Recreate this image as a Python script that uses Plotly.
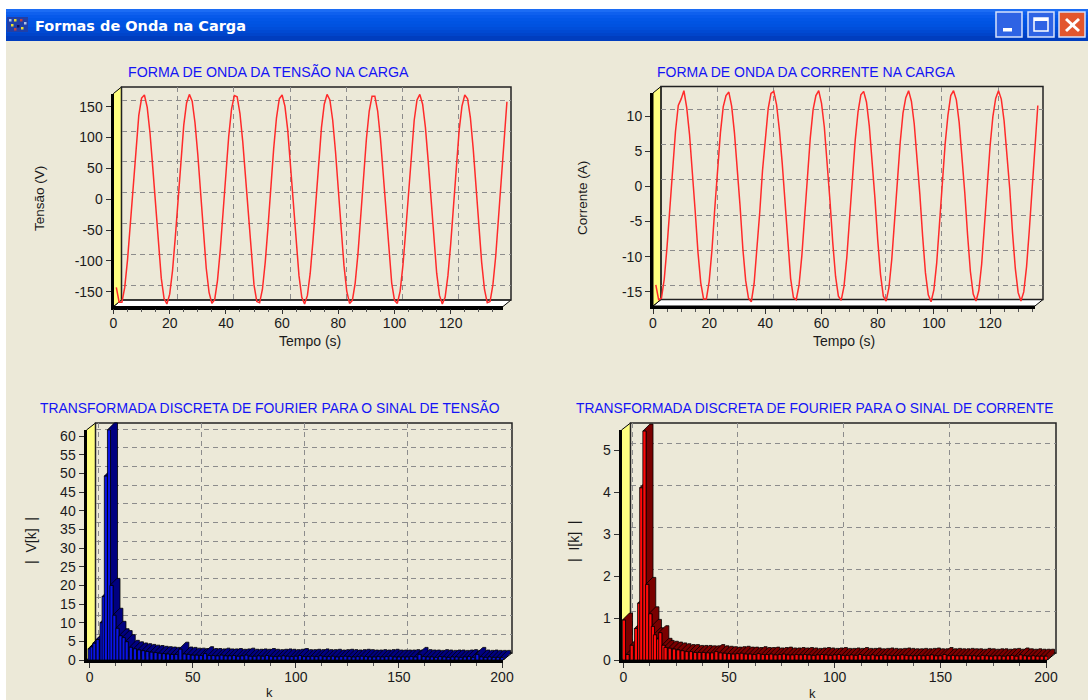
import plotly.graph_objects as go

W, H = 1088, 700

# ---- data ----
tempo_v = list(range(1, 141))
tensao = [-143,-167,-167,-143,-98,-38,27,88,136,164,169,149,107,50,-15,-77,-128,-161,-170,-154,
          -116,-61,3,66,120,156,170,159,124,72,9,-55,-112,-151,-169,-163,-132,-82,-21,44,
          102,146,168,166,139,93,32,-32,-93,-139,-166,-168,-146,-102,-44,21,82,132,163,169,
          151,112,55,-9,-72,-124,-159,-170,-156,-120,-66,-3,61,116,154,170,161,128,77,15,
          -50,-107,-149,-169,-164,-136,-88,-27,38,98,143,167,167,143,98,38,-27,-88,-136,-164,
          -169,-149,-107,-50,15,77,128,161,170,154,116,61,-3,-66,-120,-156,-170,-159,-124,-72,
          -9,55,112,151,169,163,132,82,21,-44,-102,-146,-168,-166,-139,-93,-32,32,100,158]
tempo_i = list(range(1, 138))
corrente = [-14.0,-16.1,-15.9,-13.2,-8.6,-2.7,3.1,7.8,11.5,12.4,13.6,11.2,7.4,2.4,-3.4,-9.3,-13.7,-16.0,-16.0,-13.5,
            -9.0,-3.1,2.6,7.6,11.3,12.9,13.4,11.4,7.6,2.8,-2.8,-8.9,-13.4,-15.9,-16.4,-13.8,-9.3,-3.7,2.3,7.2,
            11.0,13.2,13.5,11.6,8.0,3.3,-2.5,-8.4,-13.1,-15.8,-16.1,-14.0,-9.8,-4.2,1.9,6.9,10.9,12.9,13.6,11.8,
            8.4,3.5,-2.0,-8.0,-12.8,-15.6,-16.2,-14.2,-10.1,-4.5,1.4,6.6,10.6,13.0,13.5,12.0,8.6,4.0,-1.6,-7.6,
            -12.5,-15.6,-16.3,-14.4,-10.4,-4.9,1.2,6.2,10.4,12.6,13.6,12.1,8.9,4.2,-1.1,-7.1,-12.3,-15.4,-16.4,-14.7,
            -10.9,-5.3,0.7,6.0,10.1,12.9,13.6,12.3,9.1,4.6,-0.9,-6.9,-12.1,-15.3,-16.3,-14.8,-11.1,-5.6,0.5,5.7,
            9.9,12.5,13.6,12.4,9.3,4.9,-0.3,-6.6,-11.7,-15.1,-16.3,-15.0,-11.4,-6.1,0.2,5.4,11.5]

k_tail = list(range(20, 201, 2))
k_v = [0,1,2.3,3.9,5.8,6.8,7.9,9.4,10.6,12,13.5,15,16.5,18] + k_tail
mag_v = [3,3.5,4.5,5.5,10,17,49.3,61.7,20,12,8.5,6.5,6,4.9] + [
    3.4,3,2.7,2.5,2.3,2.1,2.0,1.8,1.7,1.6,1.5,1.5,2.9,1.6,1.5,1.3,1.3,1.2,1.7,1.2,
    1.2,1.1,1.3,1.1,1.1,1.2,1.0,1.1,1.3,1.0,1.0,1.1,1.0,1.2,1.0,0.9,1.0,1.1,1.0,0.9,
    1.0,1.2,0.9,0.9,1.0,0.9,1.1,0.9,0.9,1.0,0.8,0.9,1.0,0.9,0.8,0.9,1.0,0.9,0.8,0.8,
    0.9,0.8,0.9,1.0,0.8,0.8,0.8,0.8,0.9,0.8,1.5,0.9,0.8,0.8,0.7,0.9,0.8,0.7,0.8,0.8,
    0.7,0.8,0.9,0.7,1.5,0.8,0.7,0.8,0.7,0.7,0.7]
k_i = [0.3,2,4,6,7.5,8.5,10,11.3,12.8,14,15,16.5,17.5,19] + k_tail
mag_i = [0.95,0.13,0.35,0.75,1.35,4.1,5.45,1.8,1.1,0.8,0.6,0.5,0.65,0.35] + [
    0.3,0.28,0.26,0.24,0.22,0.2,0.2,0.18,0.18,0.18,0.17,0.17,0.2,0.17,0.16,0.15,0.14,0.15,0.16,0.14,
    0.14,0.13,0.15,0.13,0.13,0.14,0.12,0.13,0.14,0.12,0.12,0.13,0.12,0.13,0.12,0.11,0.12,0.13,0.12,0.11,
    0.12,0.13,0.11,0.11,0.12,0.11,0.13,0.11,0.11,0.12,0.1,0.11,0.12,0.11,0.1,0.11,0.12,0.11,0.1,0.1,
    0.11,0.1,0.11,0.12,0.1,0.1,0.13,0.1,0.11,0.1,0.1,0.11,0.1,0.1,0.09,0.11,0.1,0.09,0.1,0.1,
    0.09,0.1,0.11,0.09,0.12,0.1,0.09,0.1,0.09,0.09,0.09]

window_title = "Formas de Onda na Carga"
BG, BLUE_TXT = "#ECE9D8", "#1414F5"
FONT = "Liberation Sans"


def px(x): return x / W
def py(y): return 1 - y / H


fig = go.Figure()
axes = {}
shapes = []
annots = []


def txt(x, y, s, color="#1a1a1a", size=14, angle=0, family=FONT, anchor="center"):
    annots.append(dict(x=px(x), y=py(y), xref="paper", yref="paper", text=s, showarrow=False,
                       font=dict(color=color, size=size, family=family), textangle=angle,
                       xanchor=anchor, yanchor="middle"))


def poly(points, fill, line="#000000", width=1):
    d = "M" + " L".join(f"{px(a):.5f},{py(b):.5f}" for a, b in points) + " Z"
    shapes.append(dict(type="path", path=d, xref="paper", yref="paper", fillcolor=fill,
                       line=dict(color=line, width=width), layer="below"))


def rect(x0, y0, x1, y1, fill, line=None, width=0):
    shapes.append(dict(type="rect", xref="paper", yref="paper", x0=px(x0), x1=px(x1), y0=py(y0), y1=py(y1),
                       fillcolor=fill, line=dict(color=line or fill, width=width), layer="below"))


next_id = [1]


def new_pair(xdom, ydom, xr, yr, **kw):
    i = next_id[0]
    next_id[0] += 1
    xn, yn = f"xaxis{i if i > 1 else ''}", f"yaxis{i if i > 1 else ''}"
    xs, ys = f"x{i if i > 1 else ''}", f"y{i if i > 1 else ''}"
    xa = dict(domain=xdom, range=xr, anchor=ys, fixedrange=True, zeroline=False, showgrid=False,
              showticklabels=False, ticks="", showline=False)
    ya = dict(domain=ydom, range=yr, anchor=xs, fixedrange=True, zeroline=False, showgrid=False,
              showticklabels=False, ticks="", showline=False)
    xa.update(kw.get("x", {}))
    ya.update(kw.get("y", {}))
    axes[xn], axes[yn] = xa, ya
    # empty trace so that the subplot, with its grid and ticks, is drawn
    fig.add_trace(go.Scatter(x=[None], y=[None], mode="lines", xaxis=xs, yaxis=ys,
                             showlegend=False, hoverinfo="skip"))
    return xs, ys


def wide_pair(fl, fr, ft, fb, xr, yr, pad_x, pad_top):
    """Hidden axes with the same scale as the front plane but a larger clip area,
    so that marks may reach towards the back plane."""
    ux = (xr[1] - xr[0]) / (fr - fl)
    uy = (yr[1] - yr[0]) / (fb - ft)
    return new_pair([px(fl), px(fr + pad_x)], [py(fb), py(ft - pad_top)],
                    [xr[0], xr[1] + pad_x * ux], [yr[0], yr[1] + pad_top * uy])


def panel(fl, fr, ft, fb, dx, dy, xr, yr, xt, yt, xminor):
    """Frame with a front plane (fl..fr, ft..fb) and a back plane shifted by dx, -dy."""
    bl, br, bt, bb = fl + dx, fr + dx, ft - dy, fb - dy
    poly([(fl, fb), (bl, bb), (br, bb), (fr, fb)], "#FFFFFF")
    poly([(fl, fb), (bl, bb), (bl, bt), (fl, ft)], "#FFFF80")
    rect(bl, bt, br, bb, "rgba(0,0,0,0)", "#222222", 1.5)
    grid = dict(showgrid=True, griddash="5px,4px", gridcolor="#8c8c8c", gridwidth=1.3, tick0=0)
    new_pair([px(bl), px(br)], [py(bb), py(bt)], xr, yr,
             x=dict(dtick=xt, **grid), y=dict(dtick=yt, **grid))
    # tick labels typed out so negatives keep the plain hyphen of the original
    yvals = []
    v = 0
    while v <= yr[1]:
        yvals.append(v)
        v += yt
    v = -yt
    while v >= yr[0]:
        yvals.insert(0, v)
        v -= yt
    front = dict(
        x=dict(showticklabels=True, ticks="outside", ticklen=5, tickcolor="#333333", tick0=0, dtick=xt,
               showline=True, linecolor="#000000", linewidth=2.5, ticklabelstandoff=-3,
               tickfont=dict(family=FONT, size=14, color="#1a1a1a"),
               minor=dict(dtick=xminor, tick0=0, ticks="outside", ticklen=3, tickcolor="#555555")),
        y=dict(showticklabels=True, ticks="outside", ticklen=5, tickcolor="#333333",
               tickmode="array", tickvals=yvals, ticktext=[str(t) for t in yvals],
               showline=True, linecolor="#000000", linewidth=3,
               tickfont=dict(family=FONT, size=14, color="#1a1a1a")))
    new_pair([px(fl), px(fr)], [py(fb), py(ft)], xr, yr, **front)


# ---- window chrome ----
rect(6, 41, W, H, BG)
bands = ["#1C6CF4", "#0F60EE", "#0759EA", "#0256E6", "#0054E3", "#0052E0", "#004EDA", "#0049D2", "#0044CA", "#003DBE", "#003DBE"]
for i, c in enumerate(bands):
    rect(6, 9 + i * 3, W, min(41, 9 + (i + 1) * 3), c)
txt(33, 25.5, "<b>" + window_title + "</b>", color="#FFFFFF", size=14.5, family="DejaVu Sans", anchor="left")
for x0, col in [(996, "#2E63E4"), (1028, "#2E63E4"), (1059, "#E2562E")]:
    rect(x0, 12, x0 + 26, 37, col, "#D6E2FB", 1.5)
rect(1003, 28, 1012, 31.5, "#FFFFFF")
rect(1034, 18, 1048, 31, "rgba(0,0,0,0)", "#FFFFFF", 1.5)
rect(1034, 18, 1048, 21, "#FFFFFF")
for a, b, c, d in [(1066, 19, 1079, 31), (1066, 31, 1079, 19)]:
    shapes.append(dict(type="line", xref="paper", yref="paper", x0=px(a), y0=py(b), x1=px(c), y1=py(d),
                       line=dict(color="#FFFFFF", width=3), layer="below"))
rect(7, 17, 28, 32, "#1F3FA8")
for ix, iy, c in [(9, 19, "#B0C4E8"), (14, 19, "#E8E030"), (20, 19, "#C04040"), (24, 22, "#B0C4E8"),
                  (11, 24, "#E8E030"), (17, 25, "#101060"), (21, 27, "#E8E030"), (14, 28, "#C04040")]:
    rect(ix, iy, ix + 2.5, iy + 2.5, c)


def draw_wave(t, vals, fl, frt, ft, fb, xr, yr, xt, yt):
    panel(fl, frt, ft, fb, 8, 6.5, xr, yr, xt, yt, 5)
    xs, ys = wide_pair(fl, frt, ft, fb, xr, yr, 8, 6.5)
    fig.add_trace(go.Scatter(x=t, y=vals, mode="lines", xaxis=xs, yaxis=ys,
                             line=dict(color="#FF2A2A", width=1.5), showlegend=False, hoverinfo="skip"))


# ---- top-left: voltage ----
draw_wave(tempo_v, tensao, 113.5, 503, 93.5, 306.5, [0, 138.6], [-174, 171.4], 20, 50)
txt(268, 72, "FORMA DE ONDA DA TENSÃO NA CARGA", color=BLUE_TXT, size=14.2)
txt(310, 341, "Tempo (s)", size=14)
txt(40, 199, "Tensão (V)", size=13.5, angle=-90)

# ---- top-right: current ----
draw_wave(tempo_i, corrente, 653, 1035, 93, 306, [0, 136], [-17, 13.27], 20, 5)
txt(806, 72, "FORMA DE ONDA DA CORRENTE NA CARGA", color=BLUE_TXT)
txt(844, 341, "Tempo (s)", size=14)
txt(582, 198, "Corrente (A)", size=13.5, angle=-90)


def draw_bars(k, mag, fl, frt, x0, x200, y_per, yt, face, side, dx=7, dy=7):
    ft, fb = 430, 660
    ppx = (x200 - x0) / 200
    xr = [(fl - x0) / ppx, (frt - x0) / ppx]
    yr = [0, (fb - ft) / y_per]
    panel(fl, frt, ft, fb, 9, 7, xr, yr, 50, yt, 12.5)
    xs, ys = wide_pair(fl, frt, ft, fb, xr, yr, 10, 8)
    wid = 1.5
    ddx, ddy = dx / ppx, dy / y_per
    for ki, v in zip(k, mag):
        l, r = ki - wid / 2, ki + wid / 2
        fig.add_trace(go.Scatter(
            x=[l, l + ddx, r + ddx, r + ddx, r, r, l], y=[v, v + ddy, v + ddy, ddy, 0, v, v],
            mode="lines", fill="toself", fillcolor=side, line=dict(color="#000000", width=0.8),
            xaxis=xs, yaxis=ys, showlegend=False, hoverinfo="skip"))
    xb, yb = new_pair([px(fl), px(frt)], [py(fb), py(ft)], xr, yr)
    fig.add_trace(go.Bar(x=k, y=mag, width=wid, marker=dict(color=face, line=dict(color="#000000", width=0.8)),
                         xaxis=xb, yaxis=yb, cliponaxis=False, showlegend=False, hoverinfo="skip"))


# ---- bottom-left: DFT of voltage ----
draw_bars(k_v, mag_v, 86.5, 503, 89.6, 502, 3.73, 5, "#0A14E6", "#000080")
txt(270, 408, "TRANSFORMADA DISCRETA DE FOURIER PARA O SINAL DE TENSÃO", color=BLUE_TXT, size=13.9)
txt(269, 692, "k", size=13)
txt(31, 541, "|  V[k]  |", angle=-90)

# ---- bottom-right: DFT of current ----
draw_bars(k_i, mag_i, 621.5, 1047, 623.3, 1046, 42, 1, "#FF0A0A", "#7A0000")
txt(814, 408, "TRANSFORMADA DISCRETA DE FOURIER PARA O SINAL DE CORRENTE", color=BLUE_TXT, size=13.8)
txt(812, 693, "k", size=13)
txt(574, 541, "|  I[k]  |", angle=-90)

fig.update_layout(width=W, height=H, autosize=False, margin=dict(l=0, r=0, t=0, b=0, autoexpand=False),
                  paper_bgcolor="#FFFFFF", plot_bgcolor="rgba(0,0,0,0)", showlegend=False, barmode="overlay",
                  font=dict(family=FONT, size=12), shapes=shapes, annotations=annots, **axes)
fig.write_html("out.html", config=dict(displayModeBar=False),
               post_script="document.body.style.margin='0';document.documentElement.style.overflow='hidden';")
